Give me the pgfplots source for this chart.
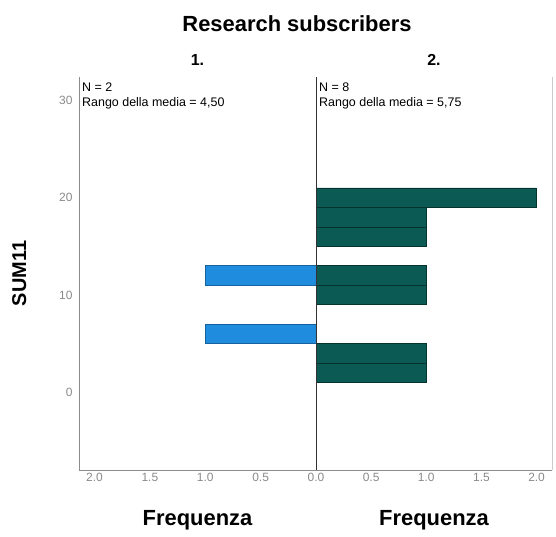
\documentclass[border=0pt]{standalone}
\usepackage{pgfplots}
\pgfplotsset{compat=1.18}
\usepackage{fontspec}
\setmainfont{Liberation Sans}
\definecolor{barblue}{HTML}{1F8CDE}
\definecolor{bluedge}{HTML}{16629C}
\definecolor{barteal}{HTML}{0B5A53}
\definecolor{tealedge}{HTML}{06332F}
\definecolor{ticktext}{HTML}{8A8A8A}
\pgfplotsset{
  pyr/.style={
    scale only axis, height=393bp, ymin=-8, ymax=32.4,
    xmin=0, xmax=2.14,
    axis line style={draw=none},
    major tick length=0pt,
    tick label style={font=\fontsize{12}{14}\selectfont, text=ticktext},
    /pgf/number format/assume math mode=true,
    xticklabel style={/pgf/number format/.cd, fixed, fixed zerofill, precision=1},
    xlabel style={font=\fontsize{22}{24}\selectfont\bfseries, yshift=-22bp},
    xlabel={Frequenza},
    ytick={0,10,20,30},
    xbar, bar width=2, bar shift=0pt,
    clip=false,
  }
}
\begin{document}
\begin{tikzpicture}
\useasboundingbox (-79bp,-67bp) rectangle (477bp,470bp);
\begin{axis}[pyr, at={(0,0)}, anchor=south west, width=237bp,
  x dir=reverse, xtick={0,0.5,1,1.5,2},
  ylabel={SUM11}, ylabel style={font=\fontsize{20}{22}\selectfont\bfseries, yshift=26bp},
  yticklabel style={xshift=-3bp},
  title={1.}, title style={font=\fontsize{16}{18}\selectfont\bfseries, yshift=2bp}]
\addplot[fill=barblue, draw=bluedge, line width=0.5pt] coordinates {(1,12) (1,6)};
\draw[draw=black!45, line width=0.8pt] (rel axis cs:0,0) -- (rel axis cs:0,1);
\draw[draw=black!45, line width=0.8pt] (rel axis cs:0,0) -- (rel axis cs:1,0);
\node[anchor=north west, align=left, font=\fontsize{12.5}{15}\selectfont, inner sep=0pt] at ([xshift=3bp,yshift=-6bp]rel axis cs:0,1) {N = 2\\Rango della media = 4,50};
\end{axis}
\begin{axis}[pyr, at={(237bp,0)}, anchor=south west, width=236bp,
  xtick={0.5,1,1.5,2}, yticklabels={},
  title={2.}, title style={font=\fontsize{16}{18}\selectfont\bfseries, yshift=2bp}]
\addplot[fill=barteal, draw=tealedge, line width=0.5pt] coordinates {(2,20) (1,18) (1,16) (1,12) (1,10) (1,4) (1,2)};
\draw[draw=black!80, line width=0.8pt] (rel axis cs:0,0) -- (rel axis cs:0,1);
\draw[draw=black!45, line width=0.8pt] (rel axis cs:0,0) -- (rel axis cs:1,0);
\draw[draw=black!20, line width=0.8pt] (rel axis cs:1,0) -- (rel axis cs:1,1);
\node[anchor=north west, align=left, font=\fontsize{12.5}{15}\selectfont, inner sep=0pt] at ([xshift=3bp,yshift=-6bp]rel axis cs:0,1) {N = 8\\Rango della media = 5,75};
\end{axis}
\node[font=\fontsize{22}{24}\selectfont\bfseries] at (218bp,446bp) {Research subscribers};
\end{tikzpicture}
\end{document}
